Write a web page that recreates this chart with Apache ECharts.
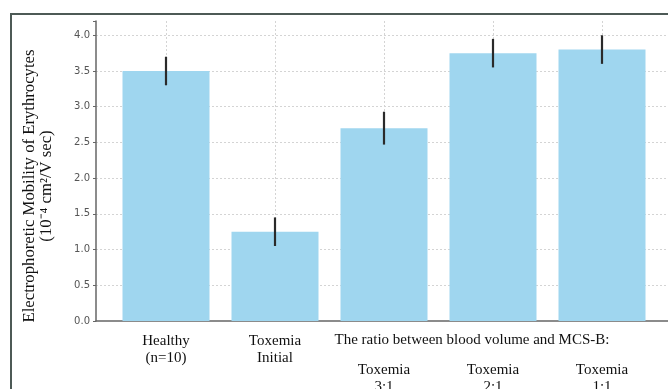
<!DOCTYPE html>
<html><head><meta charset="utf-8">
<script src="https://cdn.jsdelivr.net/npm/echarts@6/dist/echarts.min.js"></script>
<style>html,body{margin:0;padding:0;background:#fff}#c{width:668px;height:389px}</style>
</head><body><div id="c"></div>
<script>
const categories = ['Healthy\n(n=10)', 'Toxemia\nInitial', 'Toxemia\n3:1', 'Toxemia\n2:1', 'Toxemia\n1:1'];
const values = [3.5, 1.25, 2.7, 3.75, 3.8];
const errors = [0.2, 0.2, 0.23, 0.2, 0.2];
const yTicks = [0, 0.5, 1.0, 1.5, 2.0, 2.5, 3.0, 3.5, 4.0];
const groupTitle = 'The ratio between blood volume and MCS-B:';
const yTitle = 'Electrophoretic Mobility of Erythrocytes';
const yUnit = '(10\u207B\u2074 cm\u00B2/V sec)';

const chart = echarts.init(document.getElementById('c'), null, {renderer: 'canvas'});
const serif = '"Liberation Serif", "Times New Roman", serif';
const errData = values.map((v, i) => [i, v - errors[i], v + errors[i]]);

chart.setOption({
  animation: false,
  backgroundColor: '#fff',
  grid: [
    {left: 96, right: 0, top: 21, bottom: 68, outerBoundsMode: 'none', containLabel: false},
    {left: 166, right: 66, top: 21, bottom: 68, outerBoundsMode: 'none', containLabel: false}
  ],
  xAxis: [
    {gridIndex: 0, type: 'value', min: 0, max: 1,
     axisLine: {show: true, lineStyle: {color: '#666', width: 1.5}},
     axisTick: {show: false}, axisLabel: {show: false}, splitLine: {show: false}},
    {gridIndex: 1, type: 'category', boundaryGap: false, data: categories,
     axisLine: {show: false},
     axisTick: {show: true, inside: true, length: 4, lineStyle: {color: '#444'}},
     axisLabel: {
       margin: 12, color: '#111', fontFamily: serif, fontSize: 15,
       formatter: function (val, idx) {
         const parts = val.split('\n');
         if (idx >= 2) return '{sp| }\n{a|' + parts[0] + '}\n{a|' + parts[1] + '}';
         return '{a|' + parts[0] + '}\n{a|' + parts[1] + '}';
       },
       rich: {
         a: {fontFamily: serif, fontSize: 15, lineHeight: 17, color: '#111'},
         sp: {fontSize: 10, lineHeight: 29}
       }
     },
     splitLine: {show: true, lineStyle: {color: '#d4d4d4', type: [2, 2], width: 1}}}
  ],
  yAxis: [
    {gridIndex: 0, type: 'value', min: 0, max: 4.2, interval: 0.5,
     axisLine: {show: true, lineStyle: {color: '#666', width: 1.5}},
     axisTick: {show: true, length: 3, lineStyle: {color: '#666'}},
     axisLabel: {color: '#555', fontSize: 10, fontFamily: '"DejaVu Sans", sans-serif', margin: 6,
       formatter: v => (yTicks.some(t => Math.abs(t - v) < 1e-9) ? v.toFixed(1) : '')},
     splitLine: {show: true, showMaxLine: false, showMinLine: false, lineStyle: {color: '#d4d4d4', type: [2, 2], width: 1}}},
    {gridIndex: 1, type: 'value', min: 0, max: 4.2, interval: 0.5,
     axisLine: {show: false}, axisTick: {show: false}, axisLabel: {show: false}, splitLine: {show: false}}
  ],
  series: [
    {type: 'bar', xAxisIndex: 1, yAxisIndex: 1, data: values, barWidth: 87,
     itemStyle: {color: '#9fd6ef'}, z: 2},
    {type: 'custom', xAxisIndex: 1, yAxisIndex: 1, data: errData, z: 5,
     encode: {x: 0, y: [1, 2]},
     renderItem: function (params, api) {
       const lo = api.coord([api.value(0), api.value(1)]);
       const hi = api.coord([api.value(0), api.value(2)]);
       return {type: 'line', shape: {x1: lo[0], y1: lo[1], x2: hi[0], y2: hi[1]},
         style: {stroke: '#2a2a2a', lineWidth: 2.2}};
     }}
  ],
  graphic: [
    {type: 'polyline', shape: {points: [[11, 389], [11, 14], [668, 14]]},
     style: {stroke: '#4d5a56', lineWidth: 2, fill: null}, silent: true},
    {type: 'text', x: 472, y: 340, style: {text: groupTitle, font: '15px ' + serif, fill: '#111',
      align: 'center', verticalAlign: 'middle'}},
    {type: 'text', x: 38, y: 186, rotation: Math.PI / 2,
     style: {text: yTitle + '\n' + yUnit, font: '16.7px ' + serif, fill: '#111',
       align: 'center', verticalAlign: 'middle', lineHeight: 17}}
  ]
});
</script>
</body></html>
